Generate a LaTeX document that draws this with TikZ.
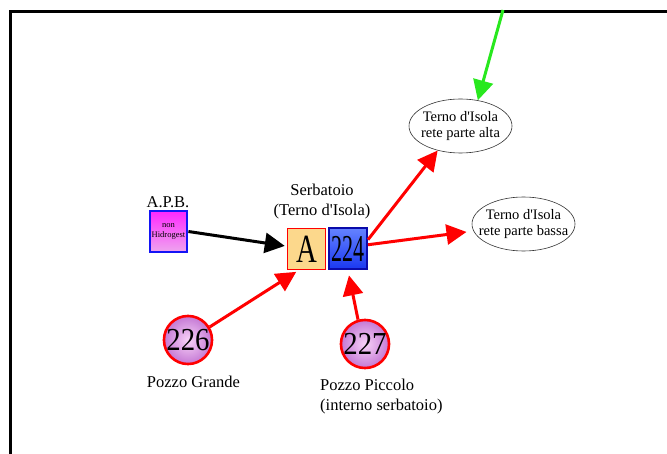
\documentclass[tikz,border=0pt]{standalone}
\usepackage{fontspec}
\setmainfont{Liberation Serif}
\usepackage{graphicx}
\usetikzlibrary{arrows.meta,shapes.geometric}
\definecolor{abox}{RGB}{252,216,140}
\definecolor{gr}{RGB}{40,232,30}
\begin{document}
\begin{tikzpicture}[x=1pt,y=-1pt,
  lbl/.style={font=\fontsize{16.5}{20}\selectfont, align=center, inner sep=0},
  ell/.style={ellipse, draw=black!80, line width=0.6pt, minimum width=103pt, minimum height=54pt, inner sep=0},
  etext/.style={inner sep=0, align=center, font=\fontsize{14.5}{16}\selectfont},
  well/.style={circle, draw=red, line width=2.6pt, minimum size=46pt, inner sep=0, inner color={rgb,255:red,248;green,210;blue,248}, outer color={rgb,255:red,196;green,120;blue,212}, font=\fontsize{32}{32}\selectfont},
  apbbox/.style={rectangle, draw={rgb,255:red,20;green,20;blue,245}, line width=2.8pt, minimum width=37pt, minimum height=41pt, inner sep=0, top color={rgb,255:red,255;green,40;blue,255}, bottom color={rgb,255:red,238;green,165;blue,238}, align=center, font=\fontsize{8.5}{10}\selectfont},
  aboxst/.style={rectangle, draw=red, line width=1.5pt, fill=abox, minimum width=38pt, minimum height=41pt, inner sep=0, font=\fontsize{40}{40}\selectfont},
  bboxst/.style={rectangle, draw={rgb,255:red,10;green,10;blue,170}, line width=2pt, minimum width=38pt, minimum height=41pt, inner sep=0, top color={rgb,255:red,100;green,130;blue,255}, bottom color={rgb,255:red,25;green,55;blue,240}, font=\fontsize{38}{38}\selectfont},
  arr/.style={line width=3pt, -{Triangle[length=20pt,width=20pt]}}
]
\useasboundingbox (0,0) rectangle (667,454);
\draw[line width=2.6pt, line join=miter] (10.3,454) -- (10.3,11.3) -- (667,11.3);
\node[apbbox] (apb) at (168.5,231.5) {non\\Hidrogest};
\node[lbl] (apbl) at (168,202) {A.P.B.};
\node[aboxst] (a) at (306.5,249) {\scalebox{0.72}[1]{A}};
\node[bboxst] (b224) at (348,249) {\scalebox{0.58}[1]{224}};
\node[lbl] (serb) at (322,202) {Serbatoio\\(Terno d\textquotesingle Isola)};
\node[ell] (alta) at (460.5,126) {};
\node[etext] (altat) at (alta) {Terno d\textquotesingle Isola\\rete parte alta};
\node[ell] (bassa) at (523.5,224) {};
\node[etext] (bassat) at (bassa) {Terno d\textquotesingle Isola\\rete parte bassa};
\node[well] (c226) at (188,340) {\scalebox{0.9}[1]{226}};
\node[well] (c227) at (365,344) {\scalebox{0.9}[1]{227}};
\node[lbl] (l226) at (193.5,382) {Pozzo Grande};
\node[lbl, align=left, anchor=west] (l227) at (320,397) {Pozzo Piccolo\\(interno serbatoio)};
\coordinate (gtop) at (503,10);
\draw[arr, black, shorten >=2pt] (apb.east) -- (a.172);
\draw[arr, red, shorten >=3pt] (c226.31) -- (a.250);
\draw[arr, red, shorten >=5pt] (c227.106) -- (b224.south);
\draw[arr, red] (b224.25) -- (alta.227);
\draw[arr, red, shorten >=7pt] (b224.12) -- (bassa.188);
\draw[arr, gr] (gtop) -- (alta.56);
\end{tikzpicture}
\end{document}
